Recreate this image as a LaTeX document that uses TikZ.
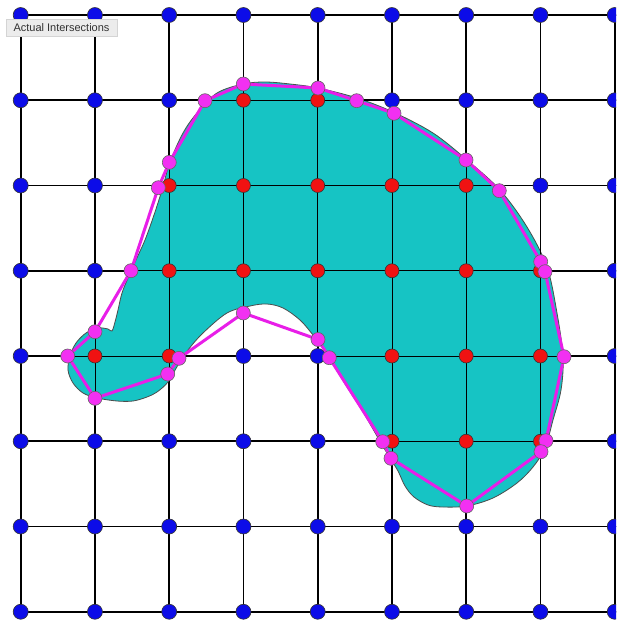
\documentclass[tikz,border=0pt]{standalone}
\usepackage{fontspec}
\setmainfont{Liberation Sans}
\definecolor{cyanfill}{RGB}{22,196,196}
\definecolor{dotblue}{RGB}{12,12,232}
\definecolor{dotred}{RGB}{240,18,18}
\definecolor{dotmag}{RGB}{242,48,242}
\definecolor{magline}{RGB}{232,30,232}
\definecolor{boxfill}{RGB}{236,236,236}
\definecolor{boxedge}{RGB}{212,212,212}
\definecolor{boxtext}{RGB}{50,50,50}
\tikzset{
  gridthick/.style={black,line width=1.8pt},
  gridthin/.style={black,line width=0.9pt},
  shapefill/.style={fill=cyanfill,draw=black!70,line width=0.8pt},
  polyline/.style={magline,line width=3pt,line join=round},
  bluedot/.style={circle,fill=dotblue,draw=black!80,line width=0.6pt,minimum size=15pt,inner sep=0pt},
  reddot/.style={circle,fill=dotred,draw=black!80,line width=0.6pt,minimum size=14pt,inner sep=0pt},
  magdot/.style={circle,fill=dotmag,draw=black!60,line width=0.6pt,minimum size=14pt,inner sep=0pt},
  labelbox/.style={fill=boxfill,draw=boxedge,line width=0.8pt,text=boxtext,minimum width=111pt,minimum height=17pt,inner sep=0pt,font=\fontsize{11}{13}\selectfont}
}
\begin{document}
\begin{tikzpicture}[x=1pt,y=-1pt]
\useasboundingbox (0,0) rectangle (616,621);
\clip (0,0) rectangle (616,621);
\fill[white] (0,0) rectangle (616,621);
% grid coordinates
\foreach \c in {0,...,8}{
  \foreach \r in {0,...,7}{
    \coordinate (g-\c-\r) at ({20.7+74.25*\c},{15+85.25*\r});
  }
}
% thick grid lines
\foreach \r in {0,...,7}{ \draw[gridthick] (g-0-\r) -- ([xshift=10pt]g-8-\r); }
\foreach \c in {0,...,8}{ \draw[gridthick] (g-\c-0) -- (g-\c-7); }
% cyan shape
\path[shapefill] plot[smooth cycle, tension=0.55] coordinates {
 (243,84) (265,82) (290,84) (318,88) (357,98) (393,112) (433,133) (467,160)
 (500,190) (527,227) (547,267) (557,313) (563,357) (561,390) (553,420) (545,448)
 (533,467) (517,483) (493,498) (467,506) (443,507) (428,505) (414,497) (405,486)
 (398,471) (390,458) (381,443) (363,412) (347,387) (331,361) (322,347) (313,335)
 (300,320) (283,308) (267,304) (250,306) (227,313) (203,333) (188,350) (178,365)
 (168,382) (157,392) (147,397) (133,401) (117,401) (97,398) (83,393) (73,383)
 (68,370) (70,356) (76,343) (86,333) (98,328) (108,329) (112,331) (115,322)
 (118,310) (122,293) (128,278) (135,262) (145,240) (154,215) (162,190) (170,162)
 (183,133) (197,113) (217,93)};
% thin grid lines over the shape
\foreach \r in {0,...,7}{ \draw[gridthin] (g-0-\r) -- ([xshift=10pt]g-8-\r); }
\foreach \c in {0,...,8}{ \draw[gridthin] (g-\c-0) -- (g-\c-7); }
% polygon vertices
\coordinate (v1) at (243.3,84);
\coordinate (v2) at (318,88);
\coordinate (v3) at (356.7,100.7);
\coordinate (v4) at (394,113.3);
\coordinate (v5) at (466,160);
\coordinate (v6) at (499.3,190.7);
\coordinate (v7) at (540.7,261.7);
\coordinate (v8) at (545,271.7);
\coordinate (v9) at (564,356.7);
\coordinate (v10) at (546,440.7);
\coordinate (v11) at (541,451.7);
\coordinate (v12) at (466.7,506);
\coordinate (v13) at (391,458.3);
\coordinate (v14) at (382.7,441.7);
\coordinate (v15) at (329.3,357.7);
\coordinate (v16) at (318,339.5);
\coordinate (v17) at (243.3,313);
\coordinate (v18) at (179,358.3);
\coordinate (v19) at (167.7,374);
\coordinate (v20) at (95,398.3);
\coordinate (v21) at (67.7,356);
\coordinate (v22) at (95,331.7);
\coordinate (v23) at (131,270.7);
\coordinate (v24) at (158.3,187.7);
\coordinate (v25) at (169.3,162.3);
\coordinate (v26) at (205,100.7);
\draw[polyline] (v1) \foreach \i in {2,...,26}{ -- (v\i) } -- cycle;
% outside points
\foreach \c/\r in {0/0,1/0,2/0,3/0,4/0,5/0,6/0,7/0,8/0,
                0/1,1/1,2/1,5/1,6/1,7/1,8/1,
                0/2,1/2,7/2,8/2,
                0/3,1/3,8/3,
                0/4,3/4,4/4,8/4,
                0/5,1/5,2/5,3/5,4/5,8/5,
                0/6,1/6,2/6,3/6,4/6,5/6,6/6,7/6,8/6,
                0/7,1/7,2/7,3/7,4/7,5/7,6/7,7/7,8/7}{
  \node[bluedot] (b-\c-\r) at (g-\c-\r) {};
}
% inside points
\foreach \c/\r in {3/1,4/1,2/2,3/2,4/2,5/2,6/2,2/3,3/3,4/3,5/3,6/3,7/3,
                   1/4,2/4,5/4,6/4,7/4,5/5,6/5,7/5}{
  \node[reddot] (r-\c-\r) at (g-\c-\r) {};
}
% intersection points
\foreach \i in {1,...,26}{ \node[magdot] (m\i) at (v\i) {}; }
% label
\node[labelbox] (lbl) at (61.5,27.5) {Actual Intersections};
\end{tikzpicture}
\end{document}
